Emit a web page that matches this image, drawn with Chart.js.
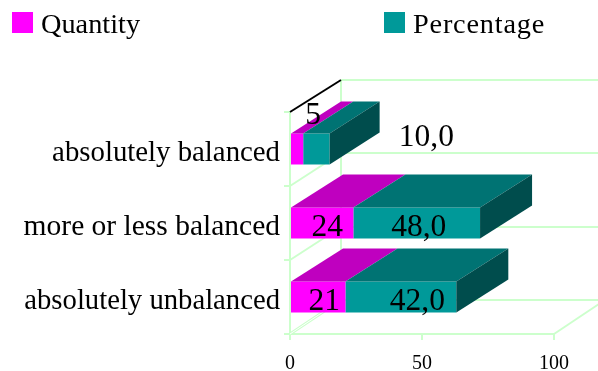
<!DOCTYPE html>
<html><head><meta charset="utf-8">
<style>html,body{margin:0;padding:0;background:#fff}canvas{display:block}</style>
<script src="https://cdn.jsdelivr.net/npm/chart.js@4"></script>
</head><body>
<canvas id="c" width="598" height="371"></canvas>
<script>
const categories = ['absolutely balanced', 'more or less balanced', 'absolutely unbalanced'];
const quantityValues = [5, 24, 21];
const percentageValues = [10.0, 48.0, 42.0];
const xTickLabels = [0, 50, 100];

const FONT = '"Liberation Serif","Times New Roman",serif';
const GRID = '#ccffcc';
const DEPTH_X = [50, 52, 52], DEPTH_Y = [32, 33, 33];
const WALL_X = 51, WALL_Y = [32, 33, 33, 34];
const CATEGORY_FONT = [28.8, 29.5, 28.7];
const shades = [
  {top:'#bf00bf'},
  {top:'#007373', side:'#004d4d'}
];
// label nudges relative to each bar segment's centre [dataset][category]
const nudges = [
  [[16,-33],[5,4.5],[6,5]],
  [[110,-11],[2,4.5],[16.5,5]]
];
const fmt = [v => String(v), v => v.toFixed(1).replace('.', ',')];

function line(ctx, x1, y1, x2, y2, color, w){
  ctx.strokeStyle = color; ctx.lineWidth = w;
  ctx.beginPath(); ctx.moveTo(x1,y1); ctx.lineTo(x2,y2); ctx.stroke();
}
function poly(ctx, pts, color){
  ctx.fillStyle = color; ctx.beginPath();
  pts.forEach((p,i)=> i ? ctx.lineTo(p[0],p[1]) : ctx.moveTo(p[0],p[1]));
  ctx.closePath(); ctx.fill();
}

const walls = {
  id:'walls',
  beforeDatasetsDraw(chart){
    const {ctx, scales:{x,y}} = chart;
    const left = x.getPixelForValue(0), right = x.getPixelForValue(100);
    const bandH = (y.bottom - y.top) / categories.length;
    const last = categories.length;
    ctx.save();
    const bx = left + WALL_X;
    for(let i = 0; i <= last; i++){
      const fy = y.top + i*bandH, by = fy - WALL_Y[i];
      line(ctx, bx, by, chart.width, by, GRID, 2);
      if(i > 0 && i < last) line(ctx, left, fy, bx, by, GRID, 2);
    }
    line(ctx, bx, y.top-WALL_Y[0], bx, y.bottom-WALL_Y[last], GRID, 2);
    line(ctx, right, y.bottom, right+WALL_X, y.bottom-WALL_Y[last], GRID, 2);
    // floor edge
    line(ctx, left, y.bottom, bx, y.bottom-WALL_Y[last], GRID, 3);
    line(ctx, left, y.bottom, bx, y.bottom-WALL_Y[last], '#ffffff', 1);
    // top edge
    line(ctx, left, y.top, bx, y.top-WALL_Y[0], '#000000', 2);
    ctx.restore();
  }
};

const depth = {
  id:'depth',
  afterDatasetsDraw(chart){
    const ctx = chart.ctx;
    ctx.save();
    chart.data.datasets.forEach((ds, d)=>{
      chart.getDatasetMeta(d).data.forEach((bar, i)=>{
        const p = bar.getProps(['x','y','base','height'], true);
        const x0 = p.base, x1 = p.x, t = p.y - p.height/2, b = p.y + p.height/2;
        const dx = DEPTH_X[i], dy = DEPTH_Y[i];
        poly(ctx, [[x0,t],[x1,t],[x1+dx,t-dy],[x0+dx,t-dy]], shades[d].top);
        if(shades[d].side) poly(ctx, [[x1,t],[x1+dx,t-dy],[x1+dx,b-dy],[x1,b]], shades[d].side);
      });
    });
    // value labels
    ctx.fillStyle = '#000';
    ctx.font = '31.5px ' + FONT;
    ctx.textAlign = 'center'; ctx.textBaseline = 'middle';
    chart.data.datasets.forEach((ds, d)=>{
      chart.getDatasetMeta(d).data.forEach((bar, i)=>{
        const p = bar.getProps(['x','y','base'], true);
        const n = nudges[d][i];
        ctx.fillText(fmt[d](ds.data[i]), (p.x+p.base)/2 + n[0], p.y + n[1]);
      });
    });
    ctx.restore();
  }
};

const legendDraw = {
  id:'legendDraw',
  afterDraw(chart){
    const ctx = chart.ctx;
    const xs = [12, 384], spacing = ['0px','0.8px'];
    ctx.save();
    ctx.font = '28.3px ' + FONT;
    ctx.textAlign = 'left'; ctx.textBaseline = 'alphabetic';
    chart.data.datasets.forEach((ds,d)=>{
      ctx.fillStyle = ds.backgroundColor;
      ctx.fillRect(xs[d], 12, 21, 21);
      ctx.fillStyle = '#000';
      ctx.letterSpacing = spacing[d];
      ctx.fillText(ds.label, xs[d]+29, 33);
    });
    ctx.restore();
  }
};

new Chart(document.getElementById('c'), {
  type:'bar',
  data:{
    labels:categories,
    datasets:[
      {label:'Quantity', data:quantityValues, backgroundColor:'#ff00ff', borderWidth:0},
      {label:'Percentage', data:percentageValues, backgroundColor:'#009999', borderWidth:0}
    ]
  },
  options:{
    indexAxis:'y',
    responsive:false,
    animation:false,
    layout:{padding:{top:112,right:44,bottom:0,left:0}},
    barPercentage:31/74,
    categoryPercentage:1,
    plugins:{legend:{display:false},tooltip:{enabled:false},title:{display:false}},
    scales:{
      x:{
        stacked:true,min:0,max:100,
        afterFit(s){s.height=37;},
        afterBuildTicks(s){s.ticks=xTickLabels.map(v=>({value:v}));},
        grid:{drawOnChartArea:false,color:GRID,lineWidth:2,tickLength:6},
        border:{color:GRID,width:2},
        ticks:{color:'#000',font:{family:FONT,size:20},padding:12,maxRotation:0,autoSkip:false}
      },
      y:{
        stacked:true,
        afterFit(s){s.width=290;},
        grid:{drawOnChartArea:false,color:GRID,lineWidth:2,tickLength:6},
        border:{color:GRID,width:2},
        ticks:{color:'#000',font:c=>({family:FONT,size:CATEGORY_FONT[c.index]}),padding:4,labelOffset:4.5,autoSkip:false}
      }
    }
  },
  plugins:[walls,depth,legendDraw]
});
</script>
</body></html>
